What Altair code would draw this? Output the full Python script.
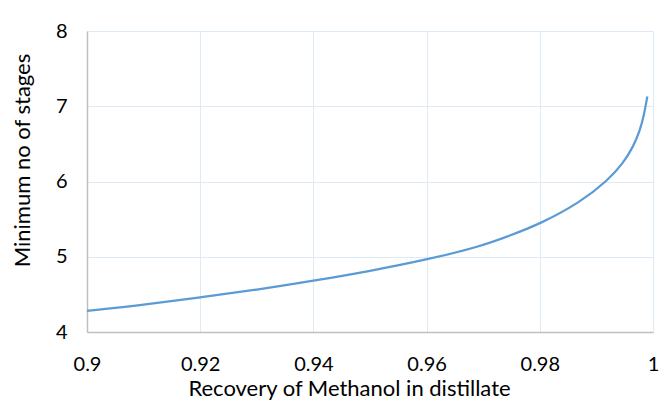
import altair as alt
import pandas as pd

recovery = [0.900, 0.910, 0.920, 0.930, 0.940, 0.950, 0.960, 0.9694, 0.9747,
            0.980, 0.9871, 0.9921, 0.9947, 0.9965, 0.9977, 0.9984, 0.999]
stages = [4.28, 4.36, 4.46, 4.56, 4.68, 4.81, 4.96, 5.135, 5.28,
          5.435, 5.72, 6.02, 6.24, 6.46, 6.68, 6.88, 7.13]
x_ticks = [0.9, 0.92, 0.94, 0.96, 0.98, 1.0]
y_ticks = [4, 5, 6, 7, 8]

df = pd.DataFrame({"r": recovery, "n": stages})
FONT = "Lato"

line = alt.Chart(df).mark_line(color="#5B9BD5", strokeWidth=2.25, interpolate="basis").encode(
    x=alt.X("r:Q", scale=alt.Scale(domain=[0.9, 1.0], nice=False, zero=False),
            axis=alt.Axis(values=x_ticks, title="Recovery of Methanol in distillate",
                          titleX=262, titleY=63, titleBaseline="alphabetic",
                          labelExpr="datum.value == 1 ? '1' : format(datum.value, '.2~f')")),
    y=alt.Y("n:Q", scale=alt.Scale(domain=[4, 8], nice=False, zero=False),
            axis=alt.Axis(values=y_ticks, title="Minimum no of stages", titleY=129)),
)

topline = alt.Chart(pd.DataFrame({"a": [0]})).mark_rule(color="#D9D9D9", strokeWidth=1.5, clip=False).encode(
    x=alt.value(-74), x2=alt.value(577), y=alt.value(-24)
)

chart = alt.layer(line, topline).properties(
    width=566, height=301,
    autosize=alt.AutoSizeParams(type="none"),
    padding={"left": 79, "top": 23, "right": 10, "bottom": 68},
).configure_view(stroke="#DEEBF7", strokeWidth=1).configure_axis(
    labelFont=FONT, titleFont=FONT, labelFontSize=20, titleFontSize=22,
    labelColor="#000000", titleColor="#000000", titleFontWeight="normal",
    gridColor="#DEEBF7", gridWidth=1, domainColor="#BFBFBF", domainWidth=1.5,
    ticks=False,
).configure_axisX(labelPadding=22, labelFlush=False
).configure_axisY(labelPadding=20, titlePadding=21)

chart.save("out.html", embed_options={"renderer": "svg", "actions": False})
